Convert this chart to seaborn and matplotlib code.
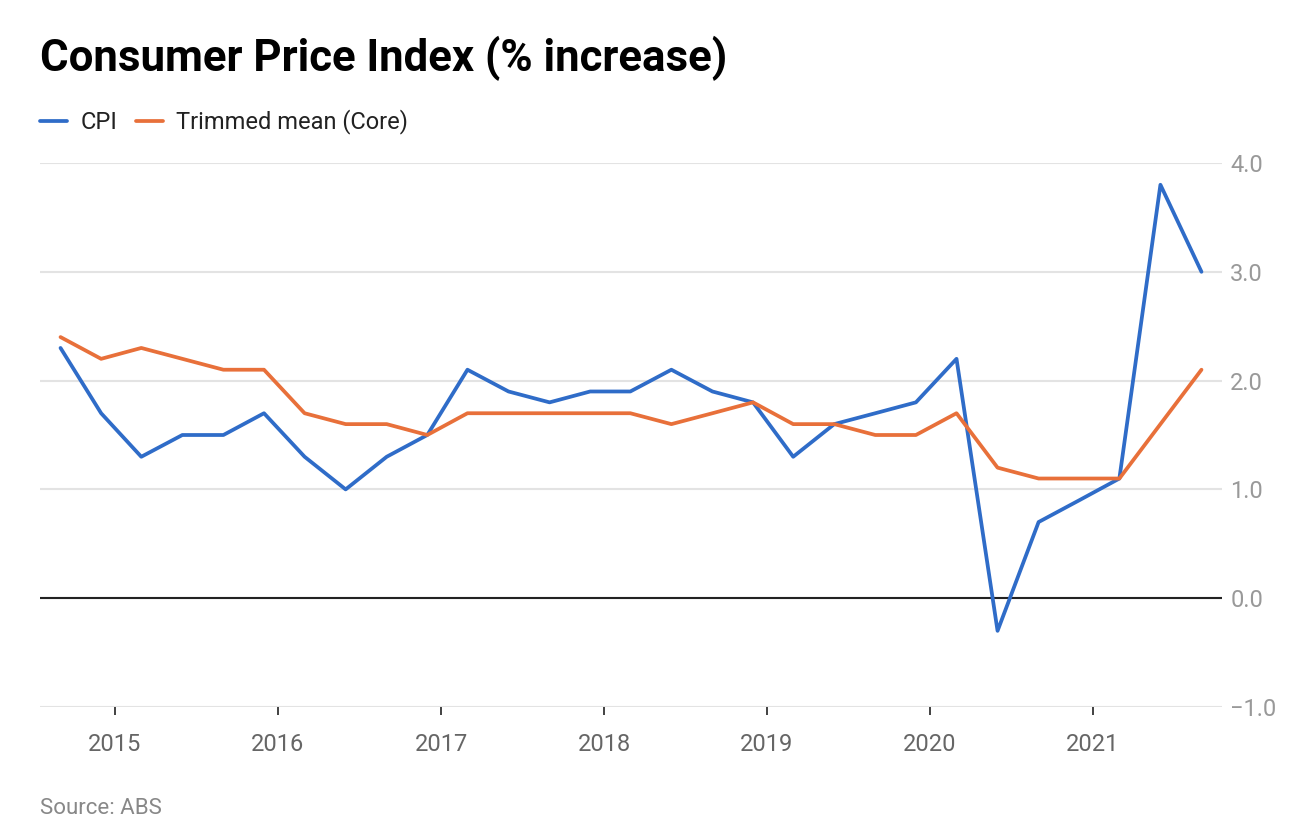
import pandas as pd
import matplotlib
matplotlib.use("Agg")
import matplotlib.pyplot as plt
import matplotlib.dates as mdates
import seaborn as sns

sns.set_theme(style="white")
plt.rcParams['font.family'] = ['Roboto', 'DejaVu Sans']

# quarterly data, Sep 2014 - Sep 2021
quarters = pd.date_range("2014-09-01", "2021-09-01", freq="3MS")
cpi = [2.3, 1.7, 1.3, 1.5, 1.5, 1.7, 1.3, 1.0, 1.3, 1.5,
       2.1, 1.9, 1.8, 1.9, 1.9, 2.1, 1.9, 1.8, 1.3, 1.6,
       1.7, 1.8, 2.2, -0.3, 0.7, 0.9, 1.1, 3.8, 3.0]
trimmed = [2.4, 2.2, 2.3, 2.2, 2.1, 2.1, 1.7, 1.6, 1.6, 1.5,
           1.7, 1.7, 1.7, 1.7, 1.7, 1.6, 1.7, 1.8, 1.6, 1.6,
           1.5, 1.5, 1.7, 1.2, 1.1, 1.1, 1.1, 1.6, 2.1]
series_names = ["CPI", "Trimmed mean (Core)"]
colours = ["#2f6cc8", "#e8703a"]
yticks = [-1.0, 0.0, 1.0, 2.0, 3.0, 4.0]

df = pd.DataFrame({"date": quarters, series_names[0]: cpi, series_names[1]: trimmed})
long = df.melt(id_vars="date", var_name="series", value_name="value")

fig = plt.figure(figsize=(13.14, 8.38), dpi=100)
ax = fig.add_axes([40/1314, 1 - 707/838, (1222-40)/1314, (707-163)/838])

ax.axhline(0, color="#222222", lw=1.5, zorder=2)
sns.lineplot(data=long, x="date", y="value", hue="series", palette=colours,
             linewidth=2.7, ax=ax, legend=True, zorder=3)

ax.set_ylim(-1.0, 4.0)
ax.set_xlim(pd.Timestamp("2014-07-17"), pd.Timestamp("2021-10-17"))
ax.set_yticks(yticks)
ax.set_yticklabels([f"{v:.1f}".replace("-", "\u2212") for v in yticks])
ax.yaxis.tick_right()
ax.grid(axis="y", color="#e3e3e3", lw=1.5, zorder=1)
ax.grid(axis="x", visible=False)
for s in ax.spines.values():
    s.set_visible(False)

ax.xaxis.set_major_locator(mdates.YearLocator())
ax.xaxis.set_major_formatter(mdates.DateFormatter("%Y"))
ax.tick_params(axis="x", bottom=True, length=6, width=1.3, color="#333333",
               labelsize=17, labelcolor="#666666", pad=13)
ax.tick_params(axis="y", right=True, length=0, labelsize=17,
               labelcolor="#999999", pad=6)
ax.set_xlabel("")
ax.set_ylabel("")

handles, labels = ax.get_legend_handles_labels()
ax.get_legend().remove()
fig.legend(handles, labels, loc="center left", bbox_to_anchor=(40/1314, 1 - 122/838),
           ncol=2, frameon=False, fontsize=17, handlelength=1.15,
           handletextpad=0.55, columnspacing=0.8, borderpad=0, borderaxespad=0,
           labelcolor="#222222")

fig.text(40/1314, 1 - 58/838, "Consumer Price Index (% increase)", fontsize=31.5,
         fontweight="bold", va="center", ha="left", color="#000000")
fig.text(40/1314, 1 - 808/838, "Source: ABS", fontsize=16, color="#888888",
         va="center", ha="left")

fig.savefig("out.png", dpi=100)
